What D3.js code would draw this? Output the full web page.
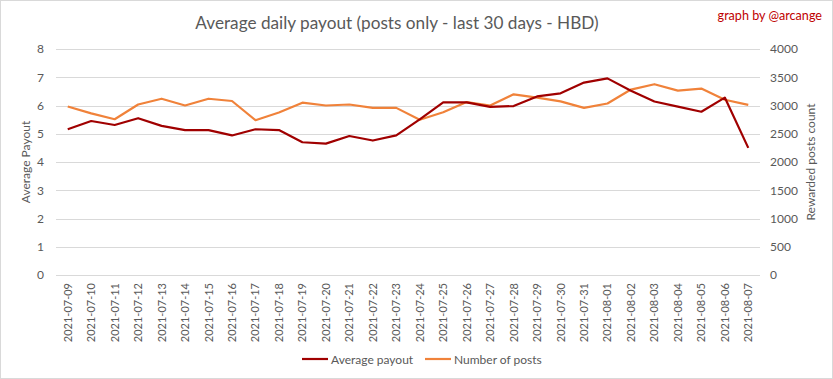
<!DOCTYPE html>
<html>
<head>
<meta charset="utf-8">
<script src="https://cdn.jsdelivr.net/npm/d3@7"></script>
<style>
  html, body { margin: 0; padding: 0; background: #fff; }
  svg { display: block; }
  text { font-family: Lato, "Open Sans", sans-serif; }
</style>
</head>
<body>
<svg id="chart" width="833" height="379"></svg>
<script>
const dates = ["2021-07-09","2021-07-10","2021-07-11","2021-07-12","2021-07-13","2021-07-14","2021-07-15","2021-07-16","2021-07-17","2021-07-18","2021-07-19","2021-07-20","2021-07-21","2021-07-22","2021-07-23","2021-07-24","2021-07-25","2021-07-26","2021-07-27","2021-07-28","2021-07-29","2021-07-30","2021-07-31","2021-08-01","2021-08-02","2021-08-03","2021-08-04","2021-08-05","2021-08-06","2021-08-07"];
const avgPayout = [5.16,5.45,5.31,5.55,5.28,5.13,5.13,4.94,5.16,5.13,4.70,4.65,4.92,4.76,4.94,5.51,6.11,6.11,5.95,5.98,6.32,6.43,6.81,6.96,6.52,6.14,5.96,5.78,6.28,4.50];
const numPosts = [2982,2860,2757,3018,3120,3000,3120,3080,2740,2875,3050,3000,3018,2958,2958,2749,2880,3060,3000,3198,3138,3072,2958,3036,3282,3377,3263,3300,3102,3012];
const leftTicks = [0,1,2,3,4,5,6,7,8];
const rightTicks = [0,500,1000,1500,2000,2500,3000,3500,4000];
const titleText = "Average daily payout (posts only - last 30 days - HBD)";
const creditText = "graph by @arcange";
const leftTitle = "Average Payout";
const rightTitle = "Rewarded posts count";
const seriesNames = ["Average payout", "Number of posts"];
const colors = ["#a00000", "#f0823a"];

const svg = d3.select("#chart");
const W = 833, H = 379;
const plot = {left: 56, right: 760, top: 49, bottom: 275};
const axisColor = "#595959";
const gridColor = "#d9d9d9";

svg.append("rect").attr("x", 0.5).attr("y", 0.5).attr("width", W - 1).attr("height", H - 1)
  .attr("fill", "#fff").attr("stroke", "#d9d9d9");

const x = d3.scaleBand().domain(dates).range([plot.left, plot.right]);
const yL = d3.scaleLinear().domain([0, 8]).range([plot.bottom, plot.top]);
const yR = d3.scaleLinear().domain([0, 4000]).range([plot.bottom, plot.top]);

// gridlines
svg.append("g").selectAll("line").data(leftTicks).join("line")
  .attr("x1", plot.left).attr("x2", plot.right)
  .attr("y1", d => Math.round(yL(d)) + 0.5).attr("y2", d => Math.round(yL(d)) + 0.5)
  .attr("stroke", gridColor).attr("stroke-width", 1);

// left axis
const gL = svg.append("g").attr("transform", `translate(${plot.left},0)`)
  .call(d3.axisLeft(yL).tickValues(leftTicks).tickFormat(d3.format("d")).tickSize(0).tickPadding(12));
gL.select(".domain").remove();
gL.selectAll("text").attr("fill", axisColor).style("font-size", "12px");

// right axis
const gR = svg.append("g").attr("transform", `translate(${plot.right},0)`)
  .call(d3.axisRight(yR).tickValues(rightTicks).tickFormat(d3.format("d")).tickSize(0).tickPadding(10));
gR.select(".domain").remove();
gR.selectAll("text").attr("fill", axisColor).style("font-size", "12px");

// bottom axis
const gB = svg.append("g").attr("transform", `translate(0,${plot.bottom})`)
  .call(d3.axisBottom(x).tickSize(0).tickPadding(0));
gB.select(".domain").remove();
gB.selectAll("text")
  .attr("fill", axisColor).style("font-size", "11px")
  .attr("text-anchor", "end")
  .attr("dy", null)
  .attr("transform", "translate(4,8) rotate(-90)");

// lines
const line = (yScale) => d3.line().x((d, i) => x(dates[i]) + x.bandwidth() / 2).y(d => yScale(d));
svg.append("path").datum(numPosts).attr("d", line(yR))
  .attr("fill", "none").attr("stroke", colors[1]).attr("stroke-width", 2.2).attr("stroke-linejoin", "round");
svg.append("path").datum(avgPayout).attr("d", line(yL))
  .attr("fill", "none").attr("stroke", colors[0]).attr("stroke-width", 2.2).attr("stroke-linejoin", "round");

// titles
svg.append("text").attr("x", 397).attr("y", 29).attr("text-anchor", "middle")
  .attr("fill", axisColor).style("font-size", "17.2px").text(titleText);
svg.append("text").attr("x", 822).attr("y", 20).attr("text-anchor", "end")
  .attr("fill", "#c00000").style("font-size", "12.6px").text(creditText);
svg.append("text").attr("transform", `translate(30,${(plot.top + plot.bottom) / 2}) rotate(-90)`)
  .attr("text-anchor", "middle").attr("fill", axisColor).style("font-size", "12px").text(leftTitle);
svg.append("text").attr("transform", `translate(815,${(plot.top + plot.bottom) / 2}) rotate(-90)`)
  .attr("text-anchor", "middle").attr("fill", axisColor).style("font-size", "12px").text(rightTitle);

// legend
const legendX = [302, 425];
const lg = svg.append("g");
seriesNames.forEach((name, i) => {
  lg.append("line").attr("x1", legendX[i]).attr("x2", legendX[i] + 26)
    .attr("y1", 359).attr("y2", 359).attr("stroke", colors[i]).attr("stroke-width", 2.2);
  lg.append("text").attr("x", legendX[i] + 29).attr("y", 363.5)
    .attr("fill", axisColor).style("font-size", "12px").text(name);
});
</script>
</body>
</html>
